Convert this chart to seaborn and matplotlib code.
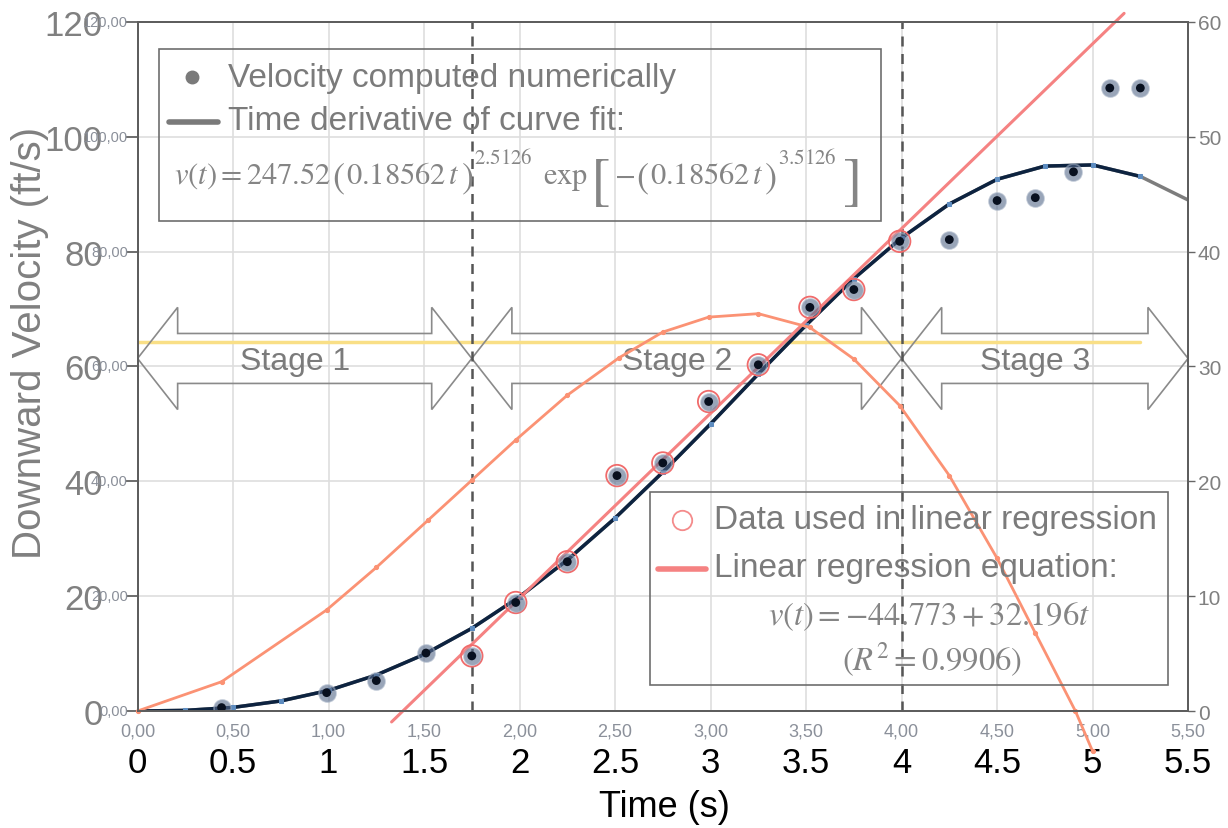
import numpy as np
import pandas as pd
import matplotlib
matplotlib.use("Agg")
import matplotlib.pyplot as plt
import seaborn as sns
from matplotlib.patches import Polygon, Rectangle
from matplotlib.lines import Line2D

# velocity computed numerically from the position data (ft/s)
num_t = [0.44, 0.99, 1.25, 1.51, 1.75, 1.98, 2.25, 2.51, 2.75, 2.99,
         3.25, 3.52, 3.75, 3.99, 4.25, 4.50, 4.70, 4.90, 5.09, 5.25]
num_v = [0.6, 3.2, 5.3, 10.1, 9.6, 18.9, 26.0, 41.0, 43.2, 53.9,
         60.3, 70.3, 73.4, 81.8, 82.1, 88.9, 89.4, 93.9, 108.5, 108.5]

# time derivative of the curve fit, read every quarter second
fit_t = [0.0, 0.25, 0.5, 0.75, 1.0, 1.25, 1.5, 1.75, 2.0, 2.25, 2.5, 2.75,
         3.0, 3.25, 3.5, 3.75, 4.0, 4.25, 4.5, 4.75, 5.0, 5.25, 5.5]
fit_v = [0.0, 0.11, 0.63, 1.75, 3.59, 6.27, 9.85, 14.4, 19.9, 26.3, 33.6, 41.6,
         50.0, 58.7, 67.2, 75.3, 82.4, 88.3, 92.6, 94.9, 95.1, 93.1, 89.0]

# linear regression line v = -44.773 + 32.196 t (end points)
lin_t = [1.33, 5.165]
lin_v = [-1.9, 121.5]

# orange curve, right axis
acc_t = [0.0, 0.44, 0.99, 1.25, 1.52, 1.75, 1.98, 2.25, 2.52, 2.75, 2.99,
         3.25, 3.52, 3.75, 3.99, 4.25, 4.50, 4.70, 4.91, 5.00]
acc_v = [0.0, 2.55, 8.8, 12.5, 16.6, 20.1, 23.6, 27.5, 30.75, 33.0, 34.3,
         34.6, 33.4, 30.65, 26.6, 20.5, 13.3, 6.8, 0.0, -3.5]

# yellow reference line
yel_t = [0.0, 5.25]
yel_v = [64.3, 64.3]

stage_edges = [0.0, 1.75, 4.0, 5.5]
stage_names = ["Stage 1", "Stage 2", "Stage 3"]

x_ticks = [0, 0.5, 1, 1.5, 2, 2.5, 3, 3.5, 4, 4.5, 5, 5.5]
x_small = ["0,00", "0,50", "1,00", "1,50", "2,00", "2,50", "3,00", "3,50",
           "4,00", "4,50", "5,00", "5,50"]
x_big = ["0", "0.5", "1", "1.5", "2", "2.5", "3", "3.5", "4", "4.5", "5", "5.5"]
y_ticks = [0, 20, 40, 60, 80, 100, 120]
y_small = ["0,00", "20,00", "40,00", "60,00", "80,00", "100,00", "120,00"]
y2_ticks = [0, 10, 20, 30, 40, 50, 60]

num = pd.DataFrame({"t": num_t, "v": num_v})
fit = pd.DataFrame({"t": fit_t, "v": fit_v})
acc = pd.DataFrame({"t": acc_t, "v": acc_v})
reg = num[(num.t >= stage_edges[1]) & (num.t <= stage_edges[2])]

sns.set_style("white")
plt.rcParams['font.family'] = ['Liberation Sans', 'DejaVu Sans']
plt.rcParams['mathtext.fontset'] = 'stix'

W, H = 1228, 829
fig = plt.figure(figsize=(W / 100, H / 100), dpi=100)
ax = fig.add_axes([0.112, 0.1411, 0.8555, 0.8312])
ax2 = ax.twinx()

grey_txt = '#7b7b7b'
eq_col = '#858585'
navy = '#0d2340'
red = '#f58282'
orange = '#fb9274'

ax.set_xlim(0, 5.5)
ax.set_ylim(0, 120)
ax2.set_ylim(0, 60)
ax.set_xticks(x_ticks)
ax.set_xticklabels(x_small)
ax.set_yticks(y_ticks)
ax.set_yticklabels([str(v) for v in y_ticks])
ax2.set_yticks(y2_ticks)
ax.grid(True, color='#dedede', lw=1.2)
ax.set_axisbelow(True)

for a in (ax, ax2):
    for s in a.spines.values():
        s.set_color('#5e5e5e')
        s.set_linewidth(1.4)

ax.tick_params(axis='x', direction='in', length=12, width=1.2, color='#555555',
               labelsize=13, labelcolor='#8b909a', pad=8)
ax.tick_params(axis='y', direction='out', length=9, width=1.2, color='#555555',
               labelsize=25, labelcolor='#808080', pad=16)
ax2.tick_params(axis='y', direction='out', length=5, width=1.0, color='#666666',
                labelsize=15, labelcolor='#808080', pad=2)

# small overlapped tick labels on the left and big black ones below
for v, lab in zip(y_ticks, y_small):
    ax.annotate(lab, xy=(0, v), xycoords=('axes fraction', 'data'),
                xytext=(-7, 0), textcoords='offset points', ha='right',
                va='center', fontsize=10.5, color='#8a8f99')
for t, lab in zip(x_ticks, x_big):
    ax.annotate(lab, xy=(t, 0), xycoords=('data', 'axes fraction'),
                xytext=(0, -37), textcoords='offset points', ha='center',
                va='center', fontsize=25, color='black', annotation_clip=False)

fig.text(664 / W, 1 - 808 / H, "Time (s)", ha='center', va='center',
         fontsize=26, color='black')
fig.text(30 / W, 1 - 343 / H, "Downward Velocity (ft/s)", rotation=90,
         ha='center', va='center', fontsize=29, color='#808080')

# yellow line and stage arrows
sns.lineplot(x=yel_t, y=yel_v, ax=ax, color='#f9df86', lw=2.5, zorder=2)
c, hl, hh, bh = 61.4, 0.21, 8.9, 4.35
for i, name in enumerate(stage_names):
    t0, t1 = stage_edges[i], stage_edges[i + 1]
    pts = [(t0, c), (t0 + hl, c + hh), (t0 + hl, c + bh), (t1 - hl, c + bh),
           (t1 - hl, c + hh), (t1, c), (t1 - hl, c - hh), (t1 - hl, c - bh),
           (t0 + hl, c - bh), (t0 + hl, c - hh)]
    ax.add_patch(Polygon(pts, closed=True, fill=False, ec='#8a8a8a', lw=1.2, zorder=3))
    ax.text((t0 + t1) / 2 - 0.05, c - 0.5, name, ha='center', va='center',
            fontsize=23, color=grey_txt, zorder=3)

for t in stage_edges[1:3]:
    ax.axvline(t, color='#555555', lw=1.8, ls=(0, (4, 3)), zorder=3)

# curves
sns.lineplot(data=acc, x='t', y='v', ax=ax2, color=orange, lw=2, sort=False,
             estimator=None, marker='o', ms=3, mec=orange, clip_on=False)
sns.lineplot(data=fit, x='t', y='v', ax=ax, color='#7d7d7d', lw=2.5, sort=False,
             estimator=None, zorder=4)
sns.lineplot(data=fit[fit.t <= 5.25], x='t', y='v', ax=ax, color=navy, lw=2.5,
             sort=False, estimator=None, marker='s', ms=3, mec='#5d8cc0',
             mfc='#5d8cc0', zorder=5)
sns.lineplot(x=lin_t, y=lin_v, ax=ax, color=red, lw=2.2, zorder=6, clip_on=False)

# points
sns.scatterplot(data=reg, x='t', y='v', ax=ax, s=240, facecolor='none',
                edgecolor='#f06b6b', linewidth=1.3, zorder=7)
sns.scatterplot(data=num, x='t', y='v', ax=ax, s=150, color='#55698a',
                alpha=0.6, edgecolor='#9aa8bd', linewidth=1.2, zorder=8)
sns.scatterplot(data=num, x='t', y='v', ax=ax, s=40, color='#08101f',
                edgecolor='none', zorder=9)

ax.set_xlabel("")
ax.set_ylabel("")
ax2.set_ylabel("")


# legend boxes drawn by hand
def fx(x):
    return x / W


def fy(y):
    return 1 - y / H


def place_row(pieces, x0):
    # lay pieces of an equation side by side, measuring each one
    r = fig.canvas.get_renderer()
    x = x0
    for s, size, base, gap in pieces:
        txt = fig.text(fx(x + gap), fy(base), s, fontsize=size, va='baseline',
                       color=eq_col)
        x = x + gap + txt.get_window_extent(r).width


fig.add_artist(Rectangle((fx(159), fy(222)), (881 - 159) / W, (222 - 50) / H,
                         transform=fig.transFigure, fill=False, ec='#6e6e6e', lw=1.2))
fig.add_artist(Line2D([fx(192)], [fy(78)], marker='o', ms=9, color='#7a7a7a', ls='none'))
fig.add_artist(Line2D([fx(169), fx(218)], [fy(123), fy(123)], color='#7a7a7a', lw=4))
fig.text(fx(228), fy(78), "Velocity computed numerically", va='center',
         fontsize=24, color=grey_txt)
fig.text(fx(228), fy(122), "Time derivative of curve fit:", va='center',
         fontsize=24, color=grey_txt)
place_row([
    (r'$v(t) = 247.52$', 22, 184, 0),
    (r'$($', 26, 188, 1),
    (r'$0.18562\,t$', 22, 184, 1),
    (r'$)$', 26, 188, 1),
    (r'$2.5126$', 15, 164, 1),
    (r'$\exp$', 22, 184, 10),
    (r'$[$', 42, 198, 2),
    (r'$-$', 22, 184, 4),
    (r'$($', 26, 188, 1),
    (r'$0.18562\,t$', 22, 184, 1),
    (r'$)$', 26, 188, 1),
    (r'$3.5126$', 15, 164, 1),
    (r'$]$', 42, 198, 6),
], 174)

fig.add_artist(Rectangle((fx(650), fy(686)), (1168 - 650) / W, (686 - 493) / H,
                         transform=fig.transFigure, fill=False, ec='#6e6e6e', lw=1.2))
fig.add_artist(Line2D([fx(682)], [fy(521)], marker='o', ms=14, mfc='none',
                      mec='#f48b8b', mew=1.3, ls='none'))
fig.add_artist(Line2D([fx(658), fx(706)], [fy(570), fy(570)], color=red, lw=4))
fig.text(fx(714), fy(521), "Data used in linear regression", va='center',
         fontsize=24, color=grey_txt)
fig.text(fx(714), fy(568), "Linear regression equation:", va='center',
         fontsize=24, color=grey_txt)
fig.text(fx(929), fy(617), r'$v(t) = -44.773 + 32.196t$', ha='center',
         va='center', fontsize=23.5, color=eq_col)
fig.text(fx(932), fy(660), r'$(R^2 = 0.9906)$', ha='center', va='center',
         fontsize=23.5, color=eq_col)

fig.savefig("out.png", dpi=100)
